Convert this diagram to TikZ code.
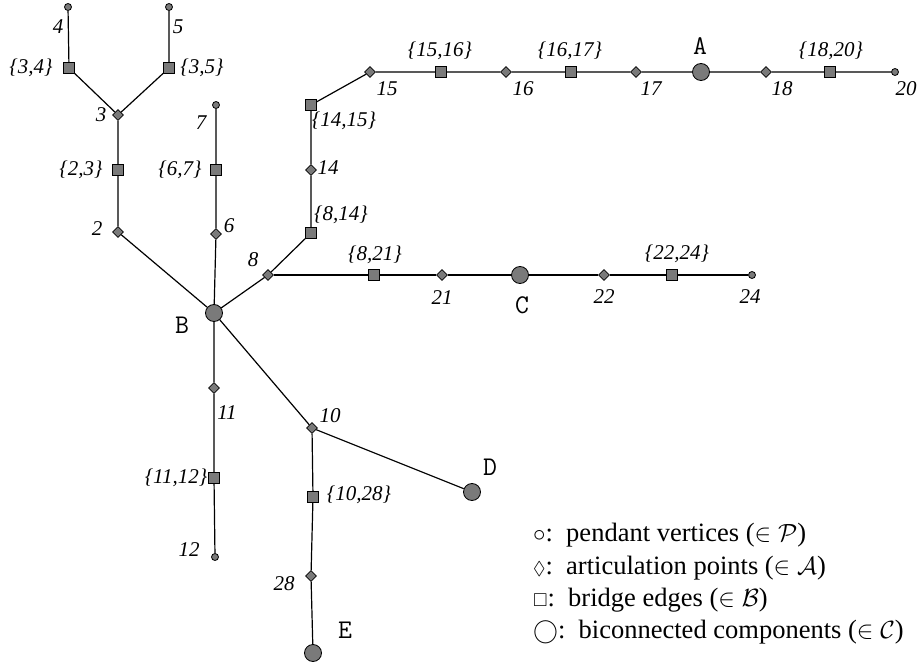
\documentclass[tikz,border=0pt]{standalone}
\usepackage{fontspec}
\usepackage{amssymb}
\setmainfont{Liberation Serif}
\usetikzlibrary{shapes.geometric}
\definecolor{vgray}{HTML}{7A7A7A}
\begin{document}
\begin{tikzpicture}[x=1pt,y=-1pt,
  every node/.style={inner sep=0pt},
  pend/.style={circle,draw,fill=vgray,minimum size=7pt,line width=0.8pt},
  art/.style={diamond,draw,fill=vgray,minimum size=11pt,line width=0.8pt},
  bridge/.style={rectangle,draw,fill=vgray,minimum size=10.5pt,line width=0.8pt},
  bic/.style={circle,draw,fill=vgray,minimum size=17pt,line width=0.8pt},
  lbl/.style={font=\fontsize{21}{24}\selectfont\itshape},
  cmp/.style={font=\fontsize{27}{28}\selectfont\ttfamily},
  leg/.style={anchor=west,font=\fontsize{26.5}{28}\selectfont},
  edge/.style={line width=1.2pt}
]
\useasboundingbox (0,0) rectangle (924,666);
% vertices
\node[pend] (v4) at (68,7) {};
\node[pend] (v5) at (169,7) {};
\node[bridge] (b34) at (69,68) {};
\node[bridge] (b35) at (169,68) {};
\node[art] (v3) at (118,115) {};
\node[bridge] (b23) at (118,170) {};
\node[art] (v2) at (118,232) {};
\node[pend] (v7) at (216,105) {};
\node[bridge] (b67) at (216,170) {};
\node[art] (v6) at (216,234) {};
\node[bic] (B) at (214,313) {};
\node[art] (v8) at (268,275) {};
\node[bridge] (b814) at (311,233) {};
\node[art] (v14) at (311,170) {};
\node[bridge] (b1415) at (311,105) {};
\node[art] (v15) at (370,72) {};
\node[bridge] (b1516) at (441,72) {};
\node[art] (v16) at (506,72) {};
\node[bridge] (b1617) at (571,72) {};
\node[art] (v17) at (636,72) {};
\node[bic] (A) at (701,72) {};
\node[art] (v18) at (766,72) {};
\node[bridge] (b1820) at (830,72) {};
\node[pend] (v20) at (895,72) {};
\node[bridge] (b821) at (374,275) {};
\node[art] (v21) at (442,275) {};
\node[bic] (C) at (520,275) {};
\node[art] (v22) at (604,275) {};
\node[bridge] (b2224) at (672,275) {};
\node[pend] (v24) at (752,275) {};
\node[art] (v11) at (214,388) {};
\node[bridge] (b1112) at (214,478) {};
\node[pend] (v12) at (215,557) {};
\node[art] (v10) at (312,428) {};
\node[bic] (D) at (472,492) {};
\node[bridge] (b1028) at (313,497) {};
\node[art] (v28) at (311,576) {};
\node[bic] (E) at (313,653) {};
% edges
\draw[edge] (v4) -- (b34) -- (v3) -- (b35) -- (v5);
\draw[edge] (v3) -- (b23) -- (v2) -- (B);
\draw[edge] (v7) -- (b67) -- (v6) -- (B);
\draw[edge] (B) -- (v8) -- (b814) -- (v14) -- (b1415) -- (v15) -- (b1516) -- (v16) -- (b1617) -- (v17) -- (A) -- (v18) -- (b1820) -- (v20);
\draw[edge] (v8) -- (b821) -- (v21) -- (C) -- (v22) -- (b2224) -- (v24);
\draw[edge] (B) -- (v11) -- (b1112) -- (v12);
\draw[edge] (B) -- (v10) -- (D);
\draw[edge] (v10) -- (b1028) -- (v28) -- (E);
% labels
\node[lbl] (l4) at (58,27) {4};
\node[lbl] (l5) at (178,27) {5};
\node[lbl] (l34) at (31,68) {\{3,4\}};
\node[lbl] (l35) at (202,68) {\{3,5\}};
\node[lbl] (l3) at (101,115) {3};
\node[lbl] (l23) at (81,170) {\{2,3\}};
\node[lbl] (l2) at (97,229) {2};
\node[lbl] (l7) at (201,123) {7};
\node[lbl] (l67) at (180,170) {\{6,7\}};
\node[lbl] (l6) at (229,226) {6};
\node[cmp] (lB) at (182,325) {B};
\node[lbl] (l8) at (253,260) {8};
\node[lbl] (l814) at (341,215) {\{8,14\}};
\node[lbl] (l14) at (328,168) {14};
\node[lbl] (l1415) at (344,121) {\{14,15\}};
\node[lbl] (l15) at (387,89) {15};
\node[lbl] (l1516) at (440,51) {\{15,16\}};
\node[lbl] (l16) at (523,89) {16};
\node[lbl] (l1617) at (570,51) {\{16,17\}};
\node[lbl] (l17) at (651,89) {17};
\node[cmp] (lA) at (700,46) {A};
\node[lbl] (l18) at (782,89) {18};
\node[lbl] (l1820) at (831,51) {\{18,20\}};
\node[lbl] (l20) at (906,89) {20};
\node[lbl] (l821) at (375,255) {\{8,21\}};
\node[lbl] (l21) at (442,298) {21};
\node[cmp] (lC) at (522,305) {C};
\node[lbl] (l22) at (604,297) {22};
\node[lbl] (l2224) at (677,254) {\{22,24\}};
\node[lbl] (l24) at (750,297) {24};
\node[lbl] (l11) at (227,413) {11};
\node[lbl] (l1112) at (176,478) {\{11,12\}};
\node[lbl] (l12) at (189,550) {12};
\node[lbl] (l10) at (330,416) {10};
\node[cmp] (lD) at (490,467) {D};
\node[lbl] (l1028) at (359,495) {\{10,28\}};
\node[lbl] (l28) at (284,584) {28};
\node[cmp] (lE) at (345,630) {E};
% legend
\node[leg] (g1) at (533,535) {$\circ$:\ \ pendant vertices ($\in\mathcal{P}$)};
\node[leg] (g2) at (533,568) {$\scriptstyle\Diamond$:\ \ articulation points ($\in\mathcal{A}$)};
\node[leg] (g3) at (533,600) {$\scriptstyle\square$:\ \ bridge edges ($\in\mathcal{B}$)};
\node[leg] (g4) at (533,632) {$\bigcirc$:\ \ biconnected components ($\in\mathcal{C}$)};
\end{tikzpicture}
\end{document}
